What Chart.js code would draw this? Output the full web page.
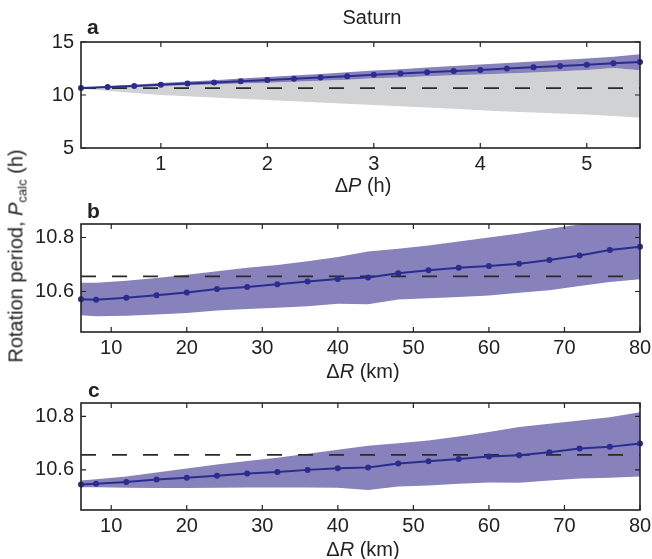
<!DOCTYPE html>
<html>
<head>
<meta charset="utf-8">
<script src="https://cdn.jsdelivr.net/npm/chart.js@4"></script>
<style>
body { margin: 0; background: #fff; font-family: "Liberation Sans", Arial, sans-serif; color: #222; }
#wrap { position: relative; width: 652px; height: 559px; overflow: hidden; }
canvas { position: absolute; left: 0; }
.lbl { position: absolute; white-space: nowrap; font-size: 20px; line-height: 1; }
.panel { font-weight: bold; font-size: 21px; }
.xt { transform: translateX(-50%); }
#ytitle { left: 17px; top: 256px; transform: translate(-50%, -50%) rotate(-90deg); font-size: 20px; }
sub { font-size: 13px; vertical-align: -4px; }
</style>
</head>
<body>
<div id="wrap">
  <canvas id="chart-a" width="652" height="200" style="top:0"></canvas>
  <canvas id="chart-b" width="652" height="180" style="top:200px"></canvas>
  <canvas id="chart-c" width="652" height="179" style="top:380px"></canvas>

  <div class="lbl xt" style="left:372px; top:7px">Saturn</div>
  <div class="lbl panel" style="left:87px; top:16px">a</div>
  <div class="lbl panel" style="left:87px; top:200px">b</div>
  <div class="lbl panel" style="left:88px; top:379px">c</div>
  <div class="lbl xt" style="left:363px; top:175px">Δ<i>P</i> (h)</div>
  <div class="lbl xt" style="left:363px; top:361px">Δ<i>R</i> (km)</div>
  <div class="lbl xt" style="left:363px; top:539px">Δ<i>R</i> (km)</div>
  <div class="lbl" id="ytitle">Rotation period, <i>P</i><sub>calc</sub> (h)</div>
</div>

<script>
// reference period (dashed line)
const refPeriod = 10.656;

// panel a: period offset dP (h)
const dP = [0.25, 0.5, 0.75, 1, 1.25, 1.5, 1.75, 2, 2.25, 2.5, 2.75, 3, 3.25, 3.5, 3.75, 4, 4.25, 4.5, 4.75, 5, 5.25, 5.5];
const periodA = [10.65, 10.75, 10.85, 10.97, 11.08, 11.18, 11.30, 11.41, 11.53, 11.65, 11.78, 11.90, 12.02, 12.14, 12.26, 12.37, 12.49, 12.61, 12.73, 12.86, 13.00, 13.12];
const bandAHigh = [10.68, 10.83, 10.97, 11.13, 11.27, 11.40, 11.55, 11.69, 11.84, 11.99, 12.15, 12.30, 12.44, 12.59, 12.74, 12.87, 13.01, 13.16, 13.30, 13.44, 13.60, 13.84];
const bandALow = [10.62, 10.68, 10.75, 10.84, 10.92, 10.99, 11.08, 11.16, 11.25, 11.34, 11.45, 11.57, 11.66, 11.76, 11.86, 11.93, 12.03, 12.13, 12.24, 12.36, 12.55, 12.34];
const grayALow = [10.6, 10.4, 10.2, 10.0, 9.88, 9.76, 9.64, 9.53, 9.42, 9.30, 9.18, 9.06, 8.94, 8.82, 8.70, 8.55, 8.45, 8.36, 8.26, 8.15, 8.02, 7.85];

// panels b and c: radius offset dR (km)
const dR = [6, 8, 12, 16, 20, 24, 28, 32, 36, 40, 44, 48, 52, 56, 60, 64, 68, 72, 76, 80];
const periodB = [10.571, 10.569, 10.577, 10.586, 10.596, 10.609, 10.617, 10.627, 10.637, 10.646, 10.652, 10.668, 10.679, 10.688, 10.694, 10.703, 10.717, 10.733, 10.754, 10.766];
const bandBHigh = [10.632, 10.632, 10.64, 10.65, 10.662, 10.675, 10.688, 10.698, 10.712, 10.728, 10.748, 10.758, 10.77, 10.785, 10.8, 10.815, 10.832, 10.848, 10.87, 10.88];
const bandBLow = [10.512, 10.508, 10.51, 10.515, 10.52, 10.53, 10.535, 10.54, 10.545, 10.555, 10.553, 10.57, 10.575, 10.58, 10.585, 10.595, 10.605, 10.62, 10.635, 10.645];
const periodC = [10.545, 10.548, 10.555, 10.564, 10.571, 10.578, 10.586, 10.592, 10.600, 10.606, 10.609, 10.624, 10.632, 10.641, 10.650, 10.655, 10.666, 10.680, 10.686, 10.699];
const bandCHigh = [10.56, 10.565, 10.575, 10.59, 10.605, 10.62, 10.633, 10.645, 10.66, 10.675, 10.69, 10.70, 10.71, 10.725, 10.742, 10.76, 10.772, 10.785, 10.797, 10.815];
const bandCLow = [10.535, 10.535, 10.533, 10.532, 10.532, 10.533, 10.534, 10.534, 10.534, 10.533, 10.525, 10.538, 10.542, 10.548, 10.553, 10.552, 10.56, 10.568, 10.571, 10.575];

// tick labels
const xTicksA = [1, 2, 3, 4, 5];
const yTicksA = [5, 10, 15];
const xTicksR = [10, 20, 30, 40, 50, 60, 70, 80];
const yTicksR = [10.6, 10.8];

const lineColor = '#2b2d8e';
const bandColor = '#8781bc';
const grayColor = '#d1d2d4';
const tickFont = { family: '"Liberation Sans", Arial, sans-serif', size: 20 };

const pts = (xs, ys) => xs.map((x, i) => ({ x: x, y: ys[i] }));

// inward ticks on all four sides + box frame
const framePlugin = {
    id: 'frame',
    afterDraw(chart) {
        const { ctx, chartArea: a, scales } = chart;
        ctx.save();
        ctx.strokeStyle = '#222';
        ctx.lineWidth = 1.2;
        ctx.beginPath();
        scales.x.ticks.forEach(t => {
            const px = scales.x.getPixelForValue(t.value);
            ctx.moveTo(px, a.bottom); ctx.lineTo(px, a.bottom - 5);
            ctx.moveTo(px, a.top); ctx.lineTo(px, a.top + 5);
        });
        scales.y.ticks.forEach(t => {
            const py = scales.y.getPixelForValue(t.value);
            ctx.moveTo(a.left, py); ctx.lineTo(a.left + 5, py);
            ctx.moveTo(a.right, py); ctx.lineTo(a.right - 5, py);
        });
        ctx.stroke();
        ctx.lineWidth = 1.6;
        ctx.strokeRect(a.left, a.top, a.right - a.left, a.bottom - a.top);
        ctx.restore();
    }
};

function makePanel(id, cfg) {
    const datasets = [
        { data: pts(cfg.xs, cfg.period), borderColor: lineColor, borderWidth: 2, pointRadius: 3,
          pointBackgroundColor: lineColor, pointBorderWidth: 0, tension: 0, fill: false, clip: false },
        { data: [{ x: cfg.xMin, y: refPeriod }, { x: cfg.xMax, y: refPeriod }], borderColor: '#2a2a2a',
          borderWidth: 1.8, borderDash: [15, 16], pointRadius: 0, fill: false },
        { data: pts(cfg.xs, cfg.high), borderWidth: 0, pointRadius: 0, backgroundColor: bandColor, fill: '+1' },
        { data: pts(cfg.xs, cfg.low), borderWidth: 0, pointRadius: 0, fill: false }
    ];
    if (cfg.grayLow) {
        datasets.push({ data: pts(cfg.xs, cfg.grayLow), borderWidth: 0, pointRadius: 0, backgroundColor: grayColor, fill: 3 });
    }
    return new Chart(document.getElementById(id).getContext('2d'), {
        type: 'line',
        data: { datasets: datasets },
        options: {
            responsive: false,
            animation: false,
            events: [],
            layout: { padding: { left: 0, top: cfg.padTop, right: 12, bottom: 0 } },
            plugins: { legend: { display: false }, tooltip: { enabled: false } },
            scales: {
                x: {
                    type: 'linear', min: cfg.xMin, max: cfg.xMax,
                    grid: { display: false, drawTicks: false },
                    border: { display: false },
                    afterBuildTicks: s => { s.ticks = cfg.xTicks.map(v => ({ value: v })); },
                    afterFit: s => { s.height = cfg.xHeight; s.paddingLeft = 0; s.paddingRight = 0; },
                    ticks: { color: '#222', font: tickFont, padding: 4, maxRotation: 0, callback: v => String(v) }
                },
                y: {
                    min: cfg.yMin, max: cfg.yMax,
                    grid: { display: false, drawTicks: false },
                    border: { display: false },
                    afterBuildTicks: s => { s.ticks = cfg.yTicks.map(v => ({ value: v })); },
                    afterFit: s => { s.width = 81; s.paddingTop = 0; s.paddingBottom = 0; },
                    ticks: { color: '#222', font: tickFont, padding: 7, callback: v => String(v) }
                }
            }
        },
        plugins: [framePlugin]
    });
}

makePanel('chart-a', { xs: dP, period: periodA, high: bandAHigh, low: bandALow, grayLow: grayALow,
    xMin: 0.25, xMax: 5.5, yMin: 5, yMax: 15, xTicks: xTicksA, yTicks: yTicksA, padTop: 42, xHeight: 52 });
makePanel('chart-b', { xs: dR, period: periodB, high: bandBHigh, low: bandBLow,
    xMin: 6, xMax: 80, yMin: 10.45, yMax: 10.85, xTicks: xTicksR, yTicks: yTicksR, padTop: 24, xHeight: 48 });
makePanel('chart-c', { xs: dR, period: periodC, high: bandCHigh, low: bandCLow,
    xMin: 6, xMax: 80, yMin: 10.45, yMax: 10.85, xTicks: xTicksR, yTicks: yTicksR, padTop: 23, xHeight: 49 });
</script>
</body>
</html>
